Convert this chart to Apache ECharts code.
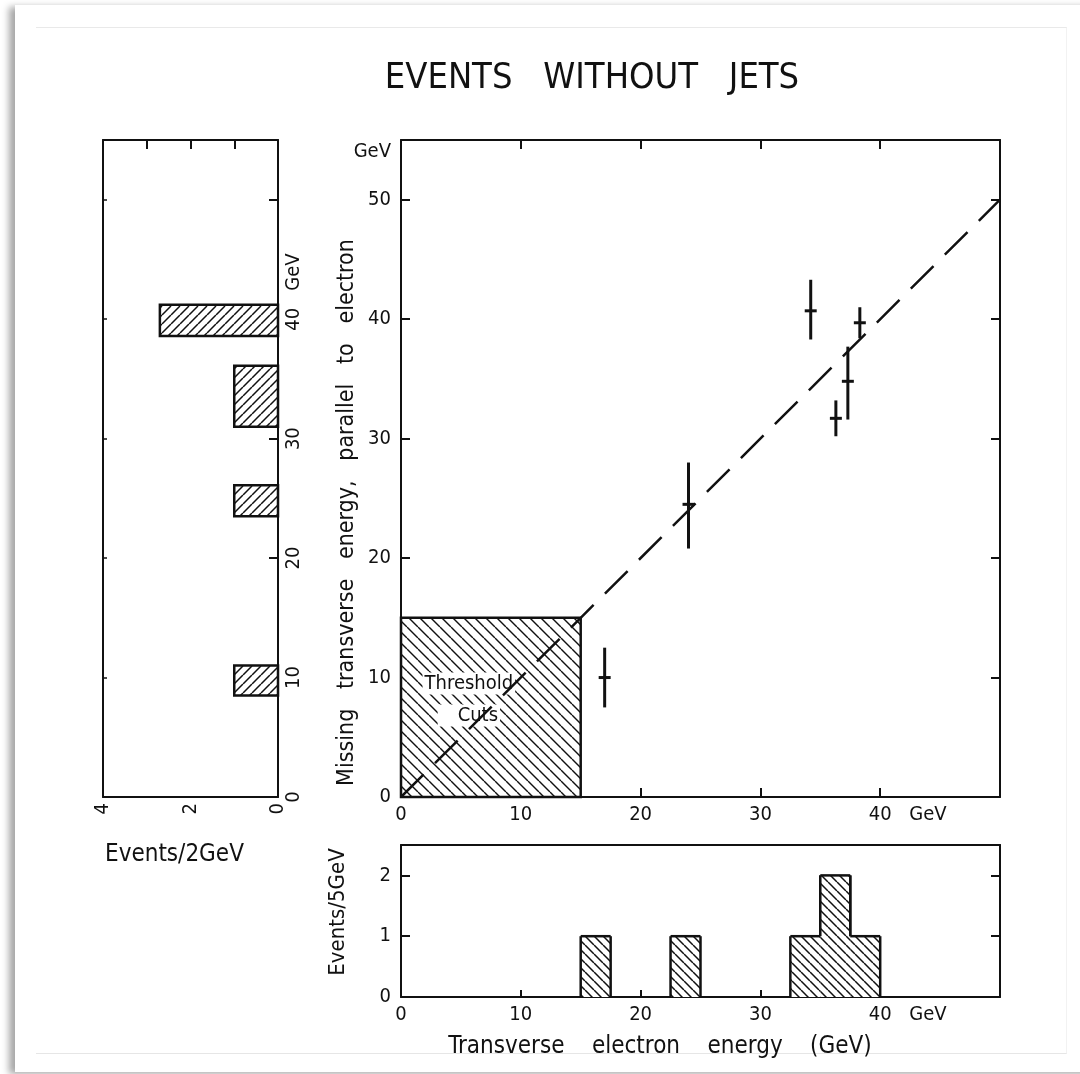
<!DOCTYPE html>
<html>
<head>
<meta charset="utf-8">
<script src="https://cdn.jsdelivr.net/npm/echarts@6/dist/echarts.min.js"></script>
<style>
  html, body { margin: 0; padding: 0; background: #fff; }
  body { width: 1080px; height: 1074px; overflow: hidden; position: relative; }
  #card { position: absolute; left: 15px; top: 5px; width: 1080px; height: 1067px; background: #fff;
          box-shadow: -6px 2px 7px rgba(0,0,0,0.35); }
  #frame { position: absolute; left: 36px; top: 27px; width: 1030px; height: 1025px;
           border-top: 1px solid #e9e9e9; border-bottom: 1px solid #e6e6e6; border-right: 1px solid #f2f2f2; }
  #chart { position: absolute; left: 0; top: 0; width: 1080px; height: 1074px; }
</style>
</head>
<body>
<div id="card"></div>
<div id="frame"></div>
<div id="chart"></div>
<script>
// ---------------- data ----------------
// scatter: events (transverse electron energy vs missing transverse energy)
const eventEt      = [17.0, 24.0, 34.2, 38.3, 36.3, 37.3];
const eventMissEt  = [10.0, 24.5, 40.7, 39.7, 31.7, 34.8];
const eventErrLow  = [7.5, 20.8, 38.3, 38.4, 30.2, 31.6];
const eventErrHigh = [12.5, 28.0, 43.3, 41.0, 33.2, 37.7];
const eventEtErr   = [0.5, 0.5, 0.5, 0.5, 0.5, 0.5];

// dashed line (missing Et = electron Et)
const diagonalLine = [[0, 0], [50, 50]];
// threshold cut box corner
const thresholdCut = [15, 15];

// left histogram: missing transverse energy (Events/2GeV)
const missBinLow  = [8.5, 23.5, 31.0, 38.6];
const missBinHigh = [11.0, 26.1, 36.1, 41.2];
const missCounts  = [1, 1, 1, 2.7];

// bottom histogram: transverse electron energy (Events/5GeV)
const etBinLow  = [15, 22.5, 32.5, 35, 37.5];
const etBinHigh = [17.5, 25, 35, 37.5, 40];
const etCounts  = [1, 1, 1, 2, 1];

const titleText   = 'EVENTS   WITHOUT   JETS';
const mainYName   = 'Missing   transverse   energy,   parallel   to   electron';
const leftXName   = 'Events/2GeV';
const bottomYName = 'Events/5GeV';
const bottomXName = 'Transverse    electron    energy    (GeV)';
const unitName    = 'GeV';

// ---------------- helpers ----------------
const INK = '#111';
const FONT = '"Liberation Sans Narrow", "DejaVu Sans Condensed", "Liberation Sans", sans-serif';

function hatch(dir, s, lw) {
  const c = document.createElement('canvas');
  c.width = s; c.height = s;
  const g = c.getContext('2d');
  g.fillStyle = '#fff'; g.fillRect(0, 0, s, s);
  g.strokeStyle = INK; g.lineWidth = lw;
  g.beginPath();
  for (let k = -1; k <= 1; k++) {
    if (dir === 'back') { g.moveTo(k * s, 0); g.lineTo(k * s + s, s); }
    else { g.moveTo(k * s, s); g.lineTo(k * s + s, 0); }
  }
  g.stroke();
  return { image: c, repeat: 'repeat' };
}
const hatchBoxMain = hatch('back', 11, 1.4);
const hatchBottom  = hatch('back', 9, 1.5);
const hatchLeft    = hatch('fwd', 9, 1.5);

const lineW = 2;
function frameAxis(o) {
  return Object.assign({
    type: 'value',
    axisLine: { show: true, onZero: false, lineStyle: { color: INK, width: lineW } },
    axisTick: { show: true, inside: true, length: 9, lineStyle: { color: INK, width: lineW } },
    axisLabel: { show: false },
    splitLine: { show: false }
  }, o);
}
const labelStyle = { show: true, color: INK, fontFamily: FONT, fontSize: 20 };

// data prepared for library
const errData = eventEt.map((x, i) => [x, eventMissEt[i], eventErrLow[i], eventErrHigh[i], eventEtErr[i]]);
const leftData = missCounts.map((c, i) => [c, missBinLow[i], missBinHigh[i]]);
const bottomData = etCounts.map((c, i) => {
  const prev = (i > 0 && etBinHigh[i - 1] === etBinLow[i]) ? etCounts[i - 1] : 0;
  const next = (i < etCounts.length - 1 && etBinLow[i + 1] === etBinHigh[i]) ? etCounts[i + 1] : 0;
  return [etBinLow[i], c, etBinHigh[i], prev, next];
});

const chart = echarts.init(document.getElementById('chart'), null, { renderer: 'canvas' });

const option = {
  animation: false,
  backgroundColor: 'transparent',
  textStyle: { fontFamily: FONT },
  title: [
    { text: titleText, left: 587, top: 56, textAlign: 'center',
      textStyle: { fontFamily: FONT, fontSize: 36, fontWeight: 'normal', color: INK } },
    { text: leftXName, left: 100, top: 838,
      textStyle: { fontFamily: FONT, fontSize: 24, fontWeight: 'normal', color: INK } },
    { text: bottomXName, left: 655, top: 1030, textAlign: 'center',
      textStyle: { fontFamily: FONT, fontSize: 24, fontWeight: 'normal', color: INK } }
  ],
  grid: [
    { left: 401, top: 140, width: 599, height: 657 },
    { left: 103, top: 140, width: 175, height: 657 },
    { left: 401, top: 845, width: 599, height: 152 }
  ],
  xAxis: [
    frameAxis({ gridIndex: 0, position: 'bottom', min: 0, max: 50, interval: 10,
      axisLabel: Object.assign({}, labelStyle, { margin: 8, showMaxLabel: false }),
      name: unitName, nameLocation: 'end', nameGap: -72,
      nameTextStyle: { color: INK, fontFamily: FONT, fontSize: 20, align: 'center', verticalAlign: 'top', padding: [8, 0, 0, 0] } }),
    frameAxis({ gridIndex: 0, position: 'top', min: 0, max: 50, interval: 10 }),
    frameAxis({ gridIndex: 1, position: 'bottom', min: 0, max: 4, interval: 2, inverse: true,
      axisTick: { show: false },
      axisLabel: Object.assign({}, labelStyle, { rotate: 90, margin: 6 }) }),
    frameAxis({ gridIndex: 1, position: 'top', min: 0, max: 4, interval: 1, inverse: true }),
    frameAxis({ gridIndex: 2, position: 'bottom', min: 0, max: 50, interval: 10,
      axisTick: { show: true, inside: true, length: 7, lineStyle: { color: INK, width: lineW } },
      axisLabel: Object.assign({}, labelStyle, { margin: 8, showMaxLabel: false }),
      name: unitName, nameLocation: 'end', nameGap: -72,
      nameTextStyle: { color: INK, fontFamily: FONT, fontSize: 20, align: 'center', verticalAlign: 'top', padding: [8, 0, 0, 0] } }),
    frameAxis({ gridIndex: 2, position: 'top', min: 0, max: 50, interval: 10, axisTick: { show: false } })
  ],
  yAxis: [
    frameAxis({ gridIndex: 0, position: 'left', min: 0, max: 55, interval: 10,
      axisLabel: Object.assign({}, labelStyle, { margin: 10, showMaxLabel: false }),
      name: unitName, nameLocation: 'end', nameGap: -12,
      nameTextStyle: { color: INK, fontFamily: FONT, fontSize: 20, align: 'right', verticalAlign: 'middle', padding: [0, 10, 0, 0] } }),
    frameAxis({ gridIndex: 0, position: 'right', min: 0, max: 55, interval: 10 }),
    { type: 'value', gridIndex: 0, position: 'left', min: 0, max: 55,
      axisLine: { show: false }, axisTick: { show: false }, axisLabel: { show: false }, splitLine: { show: false },
      name: mainYName, nameLocation: 'middle', nameGap: 42,
      nameTextStyle: { color: INK, fontFamily: FONT, fontSize: 23, padding: [0, 88, 0, 0] } },
    frameAxis({ gridIndex: 1, position: 'right', min: 0, max: 55, interval: 10,
      axisLabel: Object.assign({}, labelStyle, { rotate: 90, margin: 6, formatter: v => (v >= 50 ? '' : String(v)) }),
      name: unitName, nameLocation: 'end', nameGap: -132, nameRotate: 90,
      nameTextStyle: { color: INK, fontFamily: FONT, fontSize: 20, align: 'center', verticalAlign: 'top', padding: [6, 0, 0, 0] } }),
    frameAxis({ gridIndex: 1, position: 'left', min: 0, max: 55, interval: 10,
      axisTick: { show: true, inside: true, length: 4, lineStyle: { color: INK, width: 1.5 } } }),
    frameAxis({ gridIndex: 2, position: 'left', min: 0, max: 2.5, interval: 1,
      axisLabel: Object.assign({}, labelStyle, { margin: 10, showMaxLabel: false }),
      name: bottomYName, nameLocation: 'middle', nameGap: 52,
      nameTextStyle: { color: INK, fontFamily: FONT, fontSize: 22, padding: [0, 0, 0, 18] } }),
    frameAxis({ gridIndex: 2, position: 'right', min: 0, max: 2.5, interval: 1 })
  ],
  series: [
    {
      type: 'line', xAxisIndex: 0, yAxisIndex: 0, data: diagonalLine,
      symbol: 'none', silent: true, z: 5,
      lineStyle: { color: INK, width: 2.5, type: [32, 16] },
      markArea: {
        silent: true,
        itemStyle: { color: hatchBoxMain, borderColor: INK, borderWidth: 2.5 },
        label: {
          show: true, position: 'inside', offset: [-22, -8],
          formatter: '{a|Threshold}\n{b|Cuts}',
          rich: {
            a: { fontFamily: FONT, fontSize: 20, color: INK, backgroundColor: '#fff', padding: [1, 2, 1, 2], lineHeight: 32 },
            b: { fontFamily: FONT, fontSize: 20, color: INK, backgroundColor: '#fff', padding: [1, 2, 1, 20], lineHeight: 32 }
          }
        },
        data: [[{ coord: [0, 0] }, { coord: thresholdCut }]]
      }
    },
    {
      type: 'custom', xAxisIndex: 0, yAxisIndex: 0, data: errData, z: 6,
      renderItem: function (params, api) {
        const x = api.value(0), y = api.value(1), lo = api.value(2), hi = api.value(3), xe = api.value(4);
        const top = api.coord([x, hi]), bot = api.coord([x, lo]);
        const l = api.coord([x - xe, y]), r = api.coord([x + xe, y]);
        return {
          type: 'group',
          children: [
            { type: 'line', shape: { x1: top[0], y1: top[1], x2: bot[0], y2: bot[1] }, style: { stroke: INK, lineWidth: 3 } },
            { type: 'line', shape: { x1: l[0], y1: l[1], x2: r[0], y2: r[1] }, style: { stroke: INK, lineWidth: 3 } }
          ]
        };
      }
    },
    {
      type: 'custom', xAxisIndex: 2, yAxisIndex: 3, data: leftData, z: 4,
      renderItem: function (params, api) {
        const p0 = api.coord([0, api.value(1)]);
        const p1 = api.coord([api.value(0), api.value(2)]);
        return {
          type: 'rect',
          shape: { x: Math.min(p0[0], p1[0]), y: Math.min(p0[1], p1[1]), width: Math.abs(p1[0] - p0[0]), height: Math.abs(p1[1] - p0[1]) },
          style: { fill: hatchLeft, stroke: INK, lineWidth: 2.5 }
        };
      }
    },
    {
      type: 'custom', xAxisIndex: 4, yAxisIndex: 5, data: bottomData, z: 4,
      renderItem: function (params, api) {
        const lo = api.value(0), c = api.value(1), hi = api.value(2), prev = api.value(3), next = api.value(4);
        const a = api.coord([lo, 0]), b = api.coord([hi, c]);
        const lp = api.coord([lo, prev]), lt = api.coord([lo, c]);
        const rp = api.coord([hi, next]), rt = api.coord([hi, c]);
        const st = { stroke: INK, lineWidth: 2.5 };
        return {
          type: 'group',
          children: [
            { type: 'rect', shape: { x: a[0], y: b[1], width: b[0] - a[0], height: a[1] - b[1] }, style: { fill: hatchBottom } },
            { type: 'line', shape: { x1: lt[0], y1: lt[1], x2: rt[0], y2: rt[1] }, style: st },
            { type: 'line', shape: { x1: lp[0], y1: lp[1], x2: lt[0], y2: lt[1] }, style: st },
            { type: 'line', shape: { x1: rp[0], y1: rp[1], x2: rt[0], y2: rt[1] }, style: st }
          ]
        };
      }
    }
  ]
};
chart.setOption(option);
</script>
</body>
</html>
